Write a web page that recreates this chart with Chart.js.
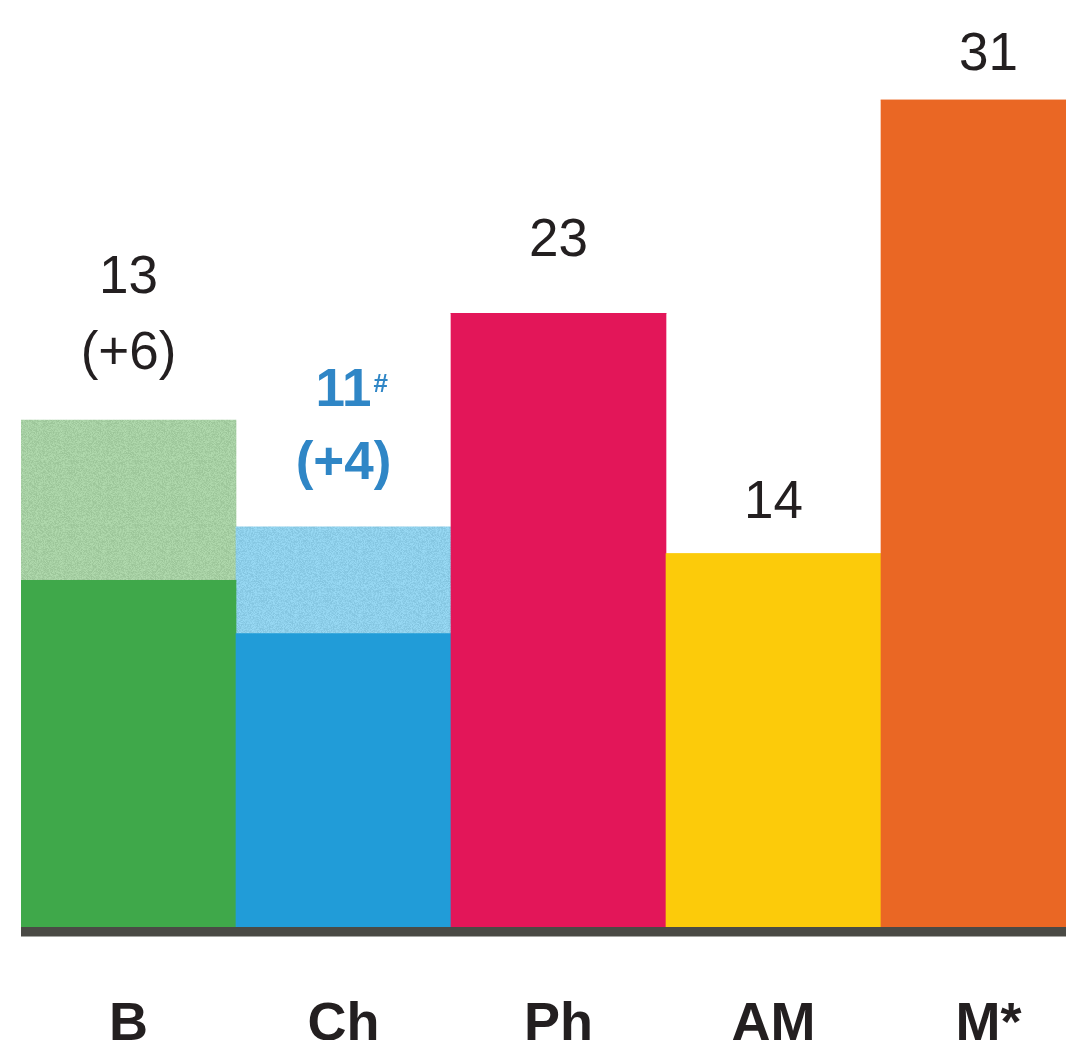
<!DOCTYPE html>
<html>
<head>
<meta charset="utf-8">
<script src="https://cdn.jsdelivr.net/npm/chart.js@4"></script>
<style>
  html, body { margin: 0; padding: 0; background: #ffffff; overflow: hidden; }
  #wrap { position: absolute; left: 0; top: 0; width: 1096px; height: 1040px; }
  canvas { display: block; }
</style>
</head>
<body>
<div id="wrap"><canvas id="c" width="1096" height="1040" style="width:1096px;height:1040px"></canvas></div>
<script>
// ---- data ----
const categories = ['B', 'Ch', 'Ph', 'AM', 'M*'];
const baseValues = [13, 11, 23, 14, 31];
const extraValues = [6, 4, 0, 0, 0];
const valueLabels = ['13', '11', '23', '14', '31'];
const valueSuffix = ['', '#', '', '', ''];
const extraLabels = ['(+6)', '(+4)', '', '', ''];

// ---- styles ----
const baseColors = ['#3fa84a', '#219cd8', '#e31659', '#fccb0a', '#ea6724'];
const extraBaseColors = ['#a6cfa3', '#8ecfea', '#e31659', '#fccb0a', '#ea6724'];
const labelColors = ['#231f20', '#2f86c6', '#231f20', '#231f20', '#231f20'];
const labelBold = [false, true, false, false, false];
// baseline distances (px) above the stack top for the value line and the extra line
const valueLift = [127, 121, 57, 36, 30];
const extraLift = [51, 48, 0, 0, 0];

function hash(x, y) {
  const s = Math.sin(x * 12.9898 + y * 78.233) * 43758.5453;
  return s - Math.floor(s);
}
function noisePattern(hex) {
  const size = 64;
  const cv = document.createElement('canvas');
  cv.width = size; cv.height = size;
  const cx = cv.getContext('2d');
  const r0 = parseInt(hex.slice(1, 3), 16), g0 = parseInt(hex.slice(3, 5), 16), b0 = parseInt(hex.slice(5, 7), 16);
  const img = cx.createImageData(size, size);
  for (let y = 0; y < size; y++) {
    for (let x = 0; x < size; x++) {
      const d = (hash(x, y) - 0.5) * 22;
      const i = (y * size + x) * 4;
      img.data[i] = Math.max(0, Math.min(255, r0 + d));
      img.data[i + 1] = Math.max(0, Math.min(255, g0 + d));
      img.data[i + 2] = Math.max(0, Math.min(255, b0 + d));
      img.data[i + 3] = 255;
    }
  }
  cx.putImageData(img, 0, 0);
  return document.getElementById('c').getContext('2d').createPattern(cv, 'repeat');
}
const extraColors = extraBaseColors.map((c, i) => extraValues[i] > 0 ? noisePattern(c) : c);

const FONT = "'Liberation Sans', Arial, Helvetica, sans-serif";

const overlay = {
  id: 'overlay',
  afterDatasetsDraw(chart) {
    const ctx = chart.ctx;
    const area = chart.chartArea;
    const ys = chart.scales.y;
    const xs = chart.scales.x;
    // baseline
    ctx.save();
    ctx.fillStyle = '#4a4a45';
    ctx.fillRect(area.left, area.bottom, area.right - area.left, 9.5);
    // labels
    ctx.textAlign = 'center';
    ctx.textBaseline = 'alphabetic';
    categories.forEach((cat, i) => {
      const x = xs.getPixelForValue(i);
      const top = ys.getPixelForValue(baseValues[i] + extraValues[i]);
      const mainFont = (labelBold[i] ? 'bold ' : '') + '53px ' + FONT;
      ctx.fillStyle = labelColors[i];
      ctx.font = mainFont;
      ctx.fillText(valueLabels[i], x, top - valueLift[i]);
      if (valueSuffix[i]) {
        const w = ctx.measureText(valueLabels[i]).width;
        ctx.font = 'bold 26px ' + FONT;
        ctx.textAlign = 'left';
        ctx.fillText(valueSuffix[i], x + w / 2 + 2, top - valueLift[i] - 14);
        ctx.textAlign = 'center';
        ctx.font = mainFont;
      }
      if (extraLabels[i]) {
        ctx.fillText(extraLabels[i], x, top - extraLift[i]);
      }
    });
    ctx.restore();
  }
};

new Chart(document.getElementById('c'), {
  type: 'bar',
  data: {
    labels: categories,
    datasets: [
      { data: baseValues, backgroundColor: baseColors, borderWidth: 0, categoryPercentage: 1, barPercentage: 1 },
      { data: extraValues, backgroundColor: extraColors, borderWidth: 0, categoryPercentage: 1, barPercentage: 1 }
    ]
  },
  options: {
    responsive: false,
    animation: false,
    devicePixelRatio: 1,
    layout: { padding: { left: 21, right: 0, top: 20, bottom: 0 } },
    plugins: { legend: { display: false }, tooltip: { enabled: false } },
    scales: {
      x: {
        stacked: true,
        grid: { display: false, drawTicks: false },
        border: { display: false },
        ticks: {
          color: '#231f20',
          font: { family: FONT, size: 54, weight: 'bold', lineHeight: 1 },
          padding: 71,
          maxRotation: 0
        },
        afterFit(scale) { scale.height = 113; }
      },
      y: {
        stacked: true,
        display: false,
        min: 0,
        max: 34
      }
    }
  },
  plugins: [overlay]
});
</script>
</body>
</html>
